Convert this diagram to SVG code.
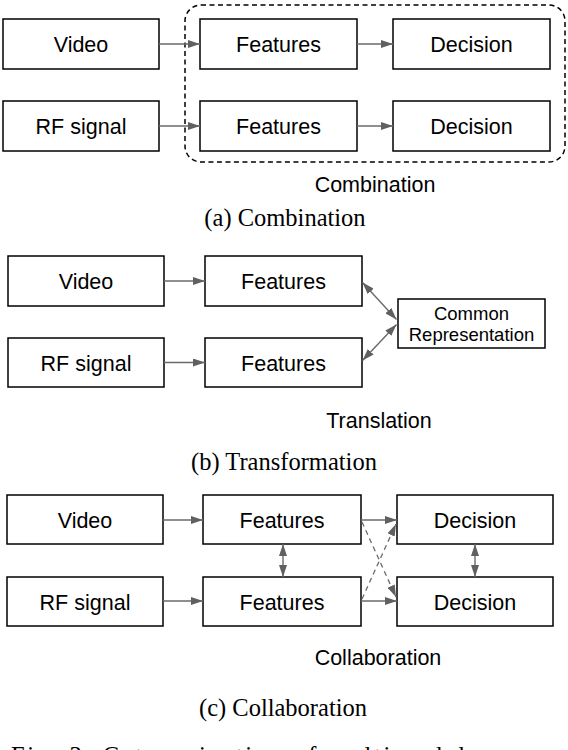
<svg xmlns="http://www.w3.org/2000/svg" width="568" height="750" viewBox="0 0 568 750">
<defs>
<style>
.box{fill:#fff;stroke:#000;stroke-width:1.5}
.t{font-family:"Liberation Sans",Arial,sans-serif;font-size:21.5px;fill:#000;text-anchor:middle}
.ts{font-family:"Liberation Sans",Arial,sans-serif;font-size:18.5px;fill:#000;text-anchor:middle}
.cap{font-family:"Liberation Serif","Times New Roman",serif;font-size:24.5px;fill:#000;text-anchor:middle}
.a{stroke:#6a6a6a;stroke-width:1.4;fill:none}
.d{stroke:#6a6a6a;stroke-width:1.3;fill:none;stroke-dasharray:5 4}
</style>
<marker id="ah" markerUnits="userSpaceOnUse" markerWidth="12" markerHeight="8" refX="12" refY="4" orient="auto">
<path d="M0,0 L12,4 L0,8 z" fill="#606060"/>
</marker>
<marker id="as" markerUnits="userSpaceOnUse" markerWidth="12" markerHeight="8" refX="0" refY="4" orient="auto">
<path d="M12,0 L0,4 L12,8 z" fill="#606060"/>
</marker>
</defs>

<rect id="combination-group" x="185" y="5" width="380" height="157" rx="16" ry="16" fill="none" stroke="#000" stroke-width="1.5" stroke-dasharray="5 3.5"/>

<g id="a-video"><rect class="box" x="3" y="19" width="156" height="50"/><text class="t" x="81" y="52">Video</text></g>
<g id="a-rf"><rect class="box" x="3" y="101" width="156" height="50"/><text class="t" x="81" y="134">RF signal</text></g>
<g id="a-feat1"><rect class="box" x="200" y="19" width="157" height="50"/><text class="t" x="278.5" y="52">Features</text></g>
<g id="a-feat2"><rect class="box" x="200" y="101" width="157" height="50"/><text class="t" x="278.5" y="134">Features</text></g>
<g id="a-dec1"><rect class="box" x="393" y="19" width="157" height="50"/><text class="t" x="471.5" y="52">Decision</text></g>
<g id="a-dec2"><rect class="box" x="393" y="101" width="157" height="50"/><text class="t" x="471.5" y="134">Decision</text></g>
<text class="t" x="375" y="192">Combination</text>
<text class="cap" x="285" y="226">(a) Combination</text>

<g id="b-video"><rect class="box" x="8" y="256" width="156" height="50"/><text class="t" x="86" y="289">Video</text></g>
<g id="b-rf"><rect class="box" x="8" y="338" width="156" height="49"/><text class="t" x="86" y="370.5">RF signal</text></g>
<g id="b-feat1"><rect class="box" x="205" y="256" width="157" height="50"/><text class="t" x="283.5" y="289">Features</text></g>
<g id="b-feat2"><rect class="box" x="205" y="338" width="157" height="49"/><text class="t" x="283.5" y="370.5">Features</text></g>
<g id="b-common"><rect class="box" x="398" y="299" width="147" height="49"/><text class="ts" x="471.5" y="319.5">Common</text><text class="ts" x="471.5" y="341">Representation</text></g>
<text class="t" x="379" y="428">Translation</text>
<text class="cap" x="284" y="470">(b) Transformation</text>

<g id="c-video"><rect class="box" x="7" y="495" width="156" height="49"/><text class="t" x="85" y="527.5">Video</text></g>
<g id="c-rf"><rect class="box" x="7" y="577" width="156" height="49"/><text class="t" x="85" y="609.5">RF signal</text></g>
<g id="c-feat1"><rect class="box" x="203" y="495" width="158" height="49"/><text class="t" x="282" y="527.5">Features</text></g>
<g id="c-feat2"><rect class="box" x="203" y="577" width="158" height="49"/><text class="t" x="282" y="609.5">Features</text></g>
<g id="c-dec1"><rect class="box" x="397" y="495" width="156" height="49"/><text class="t" x="475" y="527.5">Decision</text></g>
<g id="c-dec2"><rect class="box" x="397" y="577" width="156" height="49"/><text class="t" x="475" y="609.5">Decision</text></g>
<text class="t" x="378" y="665">Collaboration</text>
<text class="cap" x="283" y="716">(c) Collaboration</text>

<g id="connectors">
<line class="a" x1="159" y1="44" x2="200" y2="44" marker-end="url(#ah)"/>
<line class="a" x1="159" y1="126" x2="200" y2="126" marker-end="url(#ah)"/>
<line class="a" x1="357" y1="44" x2="393" y2="44" marker-end="url(#ah)"/>
<line class="a" x1="357" y1="126" x2="393" y2="126" marker-end="url(#ah)"/>

<line class="a" x1="164" y1="281" x2="205" y2="281" marker-end="url(#ah)"/>
<line class="a" x1="164" y1="362.5" x2="205" y2="362.5" marker-end="url(#ah)"/>
<line class="a" x1="362.5" y1="282.5" x2="396.5" y2="319.5" marker-start="url(#as)" marker-end="url(#ah)"/>
<line class="a" x1="362.5" y1="360.5" x2="396.5" y2="324.5" marker-start="url(#as)" marker-end="url(#ah)"/>

<line class="a" x1="163" y1="520" x2="203" y2="520" marker-end="url(#ah)"/>
<line class="a" x1="163" y1="601" x2="203" y2="601" marker-end="url(#ah)"/>
<line class="a" x1="361" y1="520" x2="397" y2="520" marker-end="url(#ah)"/>
<line class="a" x1="361" y1="601" x2="397" y2="601" marker-end="url(#ah)"/>
<line class="a" x1="283" y1="544" x2="283" y2="577" marker-start="url(#as)" marker-end="url(#ah)"/>
<line class="a" x1="475" y1="544" x2="475" y2="577" marker-start="url(#as)" marker-end="url(#ah)"/>
<line class="d" x1="362" y1="522" x2="396" y2="597" marker-end="url(#ah)"/>
<line class="d" x1="362" y1="599" x2="396" y2="524" marker-end="url(#ah)"/>
</g>

<text x="11" y="764" font-family="'Liberation Serif','Times New Roman',serif" font-size="24.5" textLength="600" lengthAdjust="spacing">Fig. 3: Categorization of multimodal approaches</text>
</svg>
